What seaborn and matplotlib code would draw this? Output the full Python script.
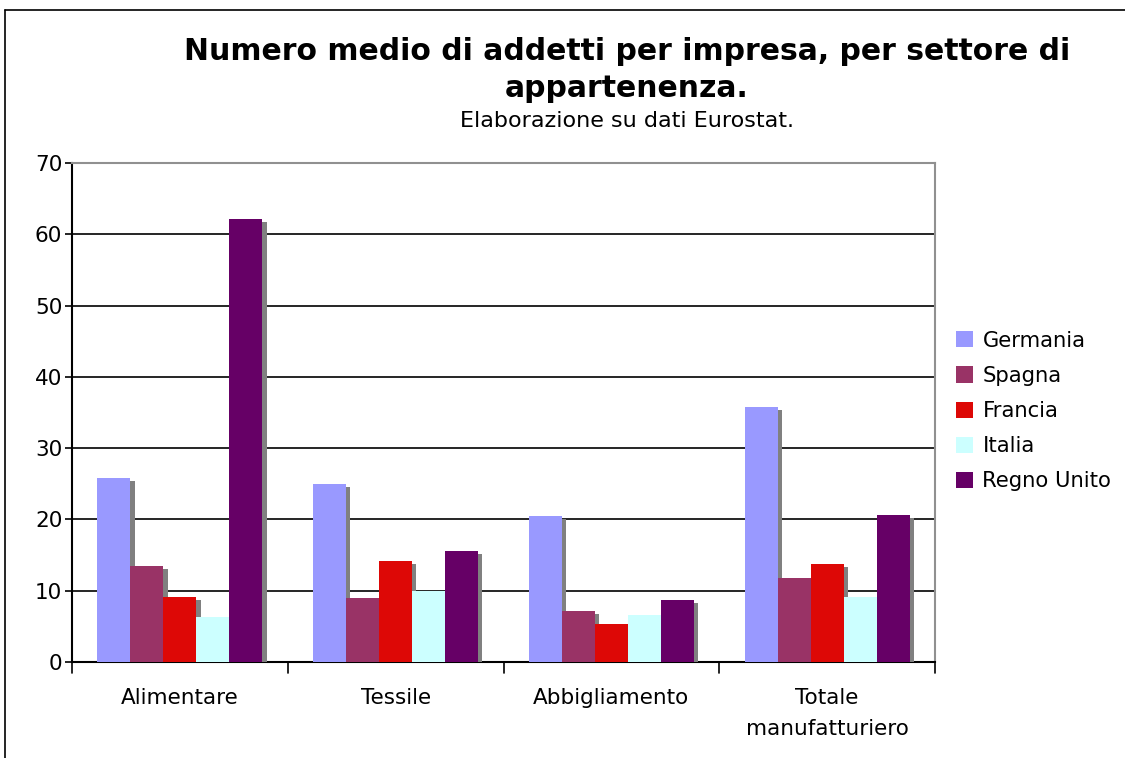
import matplotlib
matplotlib.use("Agg")
import matplotlib.pyplot as plt
import matplotlib.patheffects as pe
from matplotlib.lines import Line2D
import seaborn as sns
import pandas as pd

categories = ["Alimentare", "Tessile", "Abbigliamento", "Totale\nmanufatturiero"]
countries = ["Germania", "Spagna", "Francia", "Italia", "Regno Unito"]
germania = [25.8, 25.0, 20.5, 35.8]
spagna = [13.5, 9.0, 7.2, 11.8]
francia = [9.1, 14.2, 5.3, 13.7]
italia = [6.3, 10.0, 6.6, 9.1]
regno_unito = [62.1, 15.6, 8.7, 20.6]
colors = ["#9999FF", "#993366", "#DD0806", "#CCFFFF", "#660066"]

series = [germania, spagna, francia, italia, regno_unito]
rows = []
for c, vals in zip(countries, series):
    for cat, v in zip(categories, vals):
        rows.append({"Settore": cat, "Paese": c, "Valore": v})
df = pd.DataFrame(rows)

sns.set_theme(style="white")
plt.rcParams["font.family"] = ["DejaVu Sans"]
plt.rcParams["text.color"] = "black"
plt.rcParams["xtick.color"] = "black"
plt.rcParams["ytick.color"] = "black"
plt.rcParams["xtick.labelcolor"] = "black"
plt.rcParams["ytick.labelcolor"] = "black"

fig = plt.figure(figsize=(11.25, 7.58), dpi=100)
ax = fig.add_axes([72 / 1125, 1 - 662 / 758, (935 - 72) / 1125, (662 - 163) / 758])

sns.barplot(data=df, x="Settore", y="Valore", hue="Paese", order=categories,
            hue_order=countries, palette=colors, width=0.765, saturation=1,
            ax=ax, linewidth=0, edgecolor="none", legend=True)

for p in ax.patches:
    p.set_path_effects([pe.SimplePatchShadow(offset=(3, -2.2), shadow_rgbFace="#808080", alpha=1.0),
                        pe.Normal()])
    p.set_zorder(3)

ax.set_ylim(0, 70)
ax.set_xlim(-0.5, 3.5)
ax.set_yticks(range(0, 71, 10))
ax.yaxis.grid(True, color="black", linewidth=1.2)
ax.set_axisbelow(True)
ax.set_xlabel("")
ax.set_ylabel("")

ax.set_xticks([0, 1, 2, 3])
ax.set_xticklabels(categories, fontsize=15.5, linespacing=1.65)
ax.tick_params(axis="x", length=0, pad=19, labelcolor="black")
ax.tick_params(axis="y", labelsize=15.5, length=5, width=1.2, direction="out", left=True,
               color="black", pad=2, labelcolor="black")
for b in [-0.5, 0.5, 1.5, 2.5, 3.5]:
    ax.plot([b, b], [0, -0.022], transform=ax.get_xaxis_transform(), color="black",
            linewidth=1.2, clip_on=False)

for s in ["left", "bottom"]:
    ax.spines[s].set_color("black")
    ax.spines[s].set_linewidth(1.5)
for s in ["top", "right"]:
    ax.spines[s].set_color("#909090")
    ax.spines[s].set_linewidth(1.5)

handles, labels = ax.get_legend_handles_labels()
leg = ax.legend(handles, labels, loc="center left", bbox_to_anchor=(937 / 1125, 1 - 411 / 758),
                bbox_transform=fig.transFigure, frameon=False, fontsize=15.2,
                handlelength=0.8, handleheight=0.8, handletextpad=0.45, labelspacing=0.72)
for h in leg.legend_handles:
    h.set_path_effects([])
for t in leg.get_texts():
    t.set_color("black")

fig.text(627 / 1125, 1 - 70 / 758, "Numero medio di addetti per impresa, per settore di\nappartenenza.",
         ha="center", va="center", fontsize=21.5, fontweight="bold", linespacing=1.35, color="black")
fig.text(627 / 1125, 1 - 121 / 758, "Elaborazione su dati Eurostat.", ha="center", va="center",
         fontsize=16, color="black")

fig.add_artist(Line2D([5 / 1125, 1], [1 - 10 / 758, 1 - 10 / 758], transform=fig.transFigure, color="black", linewidth=1.2))
fig.add_artist(Line2D([5 / 1125, 5 / 1125], [0, 1 - 10 / 758], transform=fig.transFigure, color="black", linewidth=1.2))

fig.savefig("out.png", dpi=100, facecolor="white")
